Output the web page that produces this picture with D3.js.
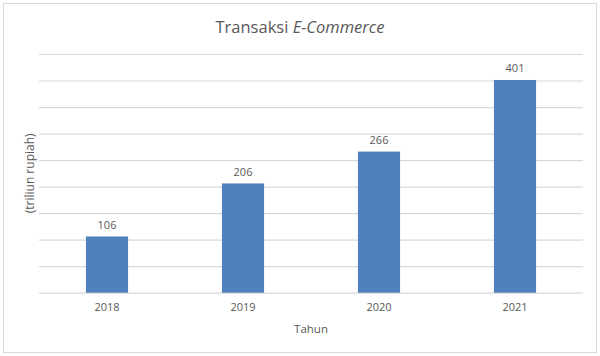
<!DOCTYPE html>
<html>
<head>
<meta charset="utf-8">
<script src="https://cdn.jsdelivr.net/npm/d3@7"></script>
<style>
	body { margin: 0; background: #fff; }
	svg text { font-family: "Open Sans", sans-serif; fill: #595959; }
</style>
</head>
<body>
<svg id="chart" width="600" height="356"></svg>
<script>
const years = ["2018", "2019", "2020", "2021"];
const values = [106, 206, 266, 401];
const gridTicks = [0, 50, 100, 150, 200, 250, 300, 350, 400, 450];

const Width = 600;
const Height = 356;
const margin = { top: 54, right: 17, bottom: 63.3, left: 39 };

const svg = d3.select("#chart");

// outer frame of the chart area
svg.append("rect")
	.attr("x", 3.5).attr("y", 3.5)
	.attr("width", 593).attr("height", 349)
	.attr("fill", "#fff").attr("stroke", "#d9d9d9");

const y = d3.scaleLinear()
	.domain([0, 450])
	.range([Height - margin.bottom, margin.top]);

const x = d3.scaleBand()
	.domain(years)
	.range([margin.left, Width - margin.right])
	.paddingInner(0.69)
	.paddingOuter(0.345);

// horizontal grid lines, no tick labels
const grid = svg.append("g")
	.attr("transform", `translate(${margin.left},0)`)
	.call(d3.axisLeft(y).tickValues(gridTicks).tickSize(-(Width - margin.left - margin.right)).tickFormat(""));
grid.select(".domain").remove();
grid.selectAll("line").attr("stroke", "#d9d9d9").attr("stroke-width", 1.2);

svg.append("g").selectAll("rect")
	.data(values)
	.enter().append("rect")
	.attr("x", (d, i) => x(years[i]))
	.attr("y", d => y(d))
	.attr("width", x.bandwidth())
	.attr("height", d => y(0) - y(d))
	.attr("fill", "#4f81bd");

// value labels above bars
svg.append("g").selectAll("text")
	.data(values)
	.enter().append("text")
	.attr("x", (d, i) => x(years[i]) + x.bandwidth() / 2)
	.attr("y", d => y(d) - 7.5)
	.attr("text-anchor", "middle")
	.attr("font-size", 11)
	.text(d => d);

// x axis labels
const xaxis = svg.append("g")
	.attr("transform", `translate(0,${y(0)})`)
	.call(d3.axisBottom(x).tickSize(0).tickPadding(11));
xaxis.select(".domain").remove();
xaxis.selectAll("text").attr("font-size", 11).attr("fill", "#595959").attr("font-family", "Open Sans, sans-serif");

svg.append("text")
	.attr("x", 300).attr("y", 33)
	.attr("text-anchor", "middle")
	.attr("font-size", 16.5)
	.html('Transaksi <tspan font-style="italic">E-Commerce</tspan>');

svg.append("text")
	.attr("x", 311).attr("y", 333)
	.attr("text-anchor", "middle")
	.attr("font-size", 11.5)
	.text("Tahun");

svg.append("text")
	.attr("transform", `translate(34,${(y(0) + y(450)) / 2}) rotate(-90)`)
	.attr("text-anchor", "middle")
	.attr("font-size", 12)
	.text("(triliun rupiah)");
</script>
</body>
</html>
